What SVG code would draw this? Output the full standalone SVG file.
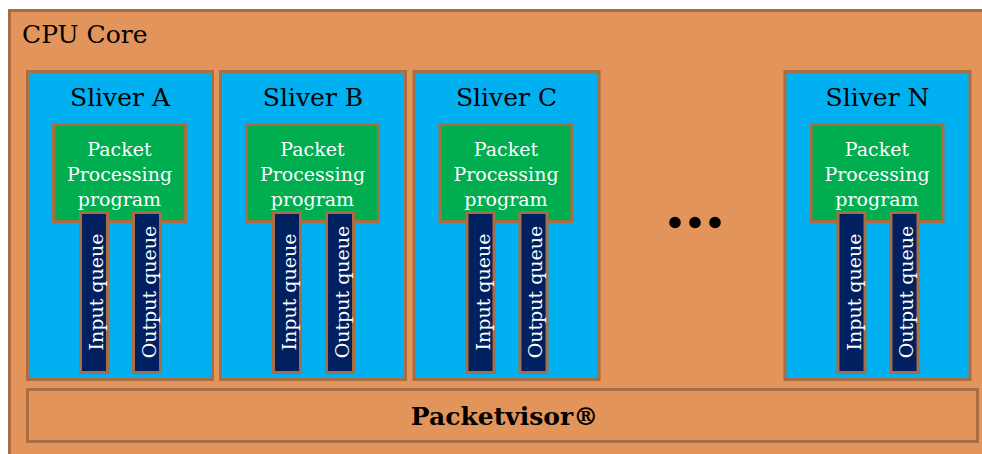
<svg xmlns="http://www.w3.org/2000/svg" width="982" height="454" viewBox="0 0 982 454">
<style>
.core{fill:#E3945A;stroke:#A86D42;stroke-width:3}
.sliver{fill:#00B0F0;stroke:#A86D42;stroke-width:3}
.prog{fill:#00AD4F;stroke:#A86D42;stroke-width:3}
.queue{fill:#002060;stroke:#A86D42;stroke-width:3}
.pv{fill:#E3945A;stroke:#A86D42;stroke-width:3}
text{font-family:"DejaVu Serif","Liberation Serif",serif}
.title{font-size:25px;fill:#000}
.stitle{font-size:25px;fill:#000;text-anchor:middle}
.ptext{font-size:19px;fill:#fff;text-anchor:middle}
.qtext{font-size:19px;fill:#fff;text-anchor:middle}
.pvtext{font-size:25px;font-weight:bold;fill:#000;text-anchor:middle}
</style>
<defs>
<g id="sliverBody">
<rect class="prog" x="27.5" y="53.5" width="132" height="97"/>
<text class="ptext" x="93.5" y="85">Packet</text>
<text class="ptext" x="93.5" y="110">Processing</text>
<text class="ptext" x="93.5" y="135">program</text>
<rect class="queue" x="54.5" y="141.5" width="27" height="160"/>
<rect class="queue" x="107.5" y="141.5" width="27" height="160"/>
<text class="qtext" transform="translate(77,221) rotate(-90)">Input queue</text>
<text class="qtext" transform="translate(129.5,221) rotate(-90)">Output queue</text>
</g>
</defs>
<g id="cpu-core">
<rect class="core" x="9.5" y="10.5" width="990" height="460"/>
<text class="title" x="22" y="43">CPU Core</text>
</g>
<g id="sliver-a">
<rect class="sliver" x="27.5" y="71.5" width="185" height="308"/>
<text class="stitle" x="120" y="106">Sliver A</text>
<use href="#sliverBody" transform="translate(26,71)"/>
</g>
<g id="sliver-b">
<rect class="sliver" x="220.5" y="71.5" width="185" height="308"/>
<text class="stitle" x="313" y="106">Sliver B</text>
<use href="#sliverBody" transform="translate(219,71)"/>
</g>
<g id="sliver-c">
<rect class="sliver" x="414" y="71.5" width="185" height="308"/>
<text class="stitle" x="506.5" y="106">Sliver C</text>
<use href="#sliverBody" transform="translate(412.5,71)"/>
</g>
<g id="ellipsis">
<circle cx="675" cy="222.5" r="5.8" fill="#000"/>
<circle cx="695" cy="222.5" r="5.8" fill="#000"/>
<circle cx="715" cy="222.5" r="5.8" fill="#000"/>
</g>
<g id="sliver-n">
<rect class="sliver" x="785" y="71.5" width="185" height="308"/>
<text class="stitle" x="877.5" y="106">Sliver N</text>
<use href="#sliverBody" transform="translate(783.5,71)"/>
</g>
<g id="packetvisor">
<rect class="pv" x="27.5" y="389.5" width="950" height="52"/>
<text class="pvtext" x="504.5" y="425">Packetvisor®</text>
</g>
<g id="connectors"/>
</svg>
